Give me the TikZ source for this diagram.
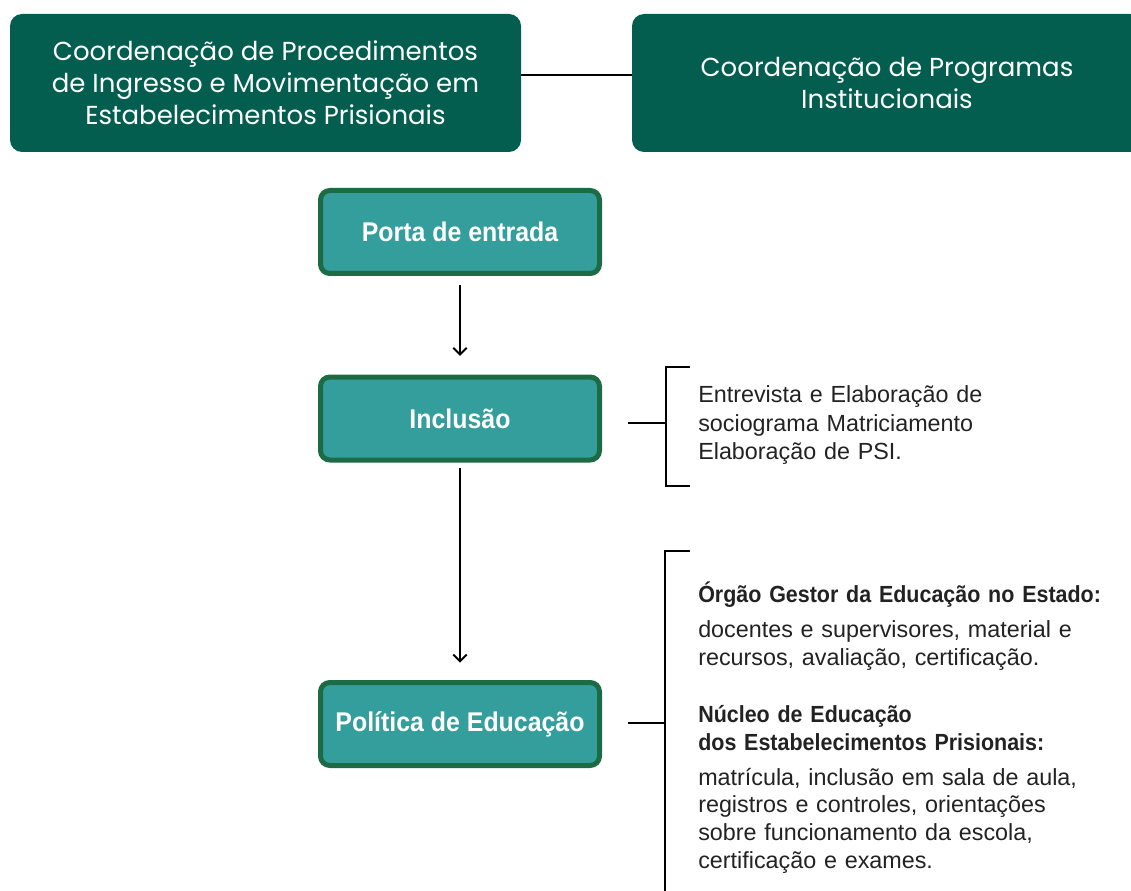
\documentclass[tikz,border=0pt]{standalone}
\usepackage{fontspec}
\setmainfont{Liberation Sans}[BoldFeatures={FakeStretch=0.92}]
\newfontfamily\headfont{Poppins}
\usetikzlibrary{arrows.meta}
\definecolor{darkgreen}{HTML}{035E4F}
\definecolor{tealfill}{HTML}{339E9B}
\definecolor{tealborder}{HTML}{1D6B45}
\definecolor{bodytext}{HTML}{222222}
\begin{document}
\begin{tikzpicture}[x=0.75pt,y=-0.75pt,
  coordbox/.style={fill=darkgreen, rounded corners=9pt, text=white, align=center,
    font=\headfont\fontsize{19.5}{24}\selectfont, inner sep=0pt,
    minimum height=103.5pt},
  stepbox/.style={fill=tealfill, draw=tealborder, line width=3.75pt, rounded corners=7pt,
    text=white, font=\bfseries\fontsize{20.3}{24}\selectfont,
    minimum width=209.25pt, minimum height=62.25pt, inner sep=0pt},
  conn/.style={line width=1.5pt, black},
  arr/.style={conn, -{Straight Barb[length=5pt,width=10pt,line width=1.5pt]}},
  bracket/.style={line width=1.6pt, black},
  note/.style={text=bodytext, font=\fontsize{17.5}{21.5}\selectfont, align=left,
    inner sep=0pt, anchor=base west, text width=345pt},
  notebold/.style={note, font=\bfseries\fontsize{17.5}{21.4}\selectfont},
]
\useasboundingbox (0,0) rectangle (1131,891);
\clip (0,0) rectangle (1131,891);

% top boxes
\node[coordbox, minimum width=383.25pt] (cpi) at (265.5,83)
  {Coordenação de Procedimentos\\de Ingresso e Movimentação em\\Estabelecimentos Prisionais};
\node[coordbox, minimum width=382.5pt] (cpr) at (887,83)
  {Coordenação de Programas\\Institucionais};
\draw[conn] ([yshift=6pt]cpi.east) -- ([yshift=6pt]cpr.west);

% flow boxes
\node[stepbox] (porta) at (460,232) {Porta de entrada};
\node[stepbox] (incl) at (460,418.5) {Inclusão};
\node[stepbox] (pol) at (460,724) {Política de Educação};

\draw[arr, shorten <=6.4pt, shorten >=13.9pt] (porta.south) -- (incl.north);
\draw[arr, shorten <=4pt, shorten >=13pt] (incl.south) -- (pol.north);

% bracket 1
\coordinate (b1l) at (628,423);
\coordinate (b1m) at (666,423);
\coordinate (b1t) at (690,367);
\coordinate (b1b) at (690,486);
\draw[bracket] (b1l) -- (b1m);
\draw[bracket] (b1t) -| (b1m) |- (b1b);
\node[note] (t1) at (698,402.5)
  {Entrevista e Elaboração de\\sociograma Matriciamento\\Elaboração de PSI.};

% bracket 2
\coordinate (b2l) at (628,723);
\coordinate (b2m) at (665,723);
\coordinate (b2t) at (690,551);
\coordinate (b2b) at (665,900);
\draw[bracket] (b2l) -- (b2m);
\draw[bracket] (b2t) -| (b2b);
\node[notebold] (h1) at (698,602.5) {Órgão Gestor da Educação no Estado:};
\node[note] (p1) at (698,637) {docentes e supervisores, material e\\recursos, avaliação, certificação.};
\node[notebold] (h2) at (698,722) {Núcleo de Educação\\dos Estabelecimentos Prisionais:};
\node[note, font=\fontsize{17.5}{20.8}\selectfont] (p2) at (698,785)
  {matrícula, inclusão em sala de aula,\\registros e controles, orientações\\sobre funcionamento da escola,\\certificação e exames.};
\end{tikzpicture}
\end{document}
